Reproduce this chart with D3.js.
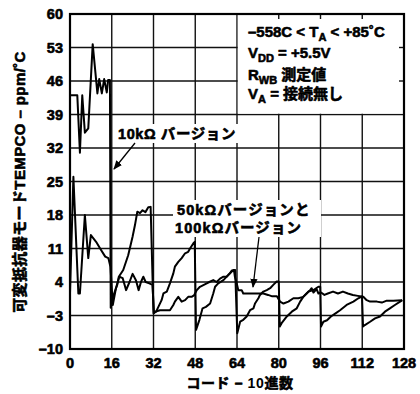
<!DOCTYPE html>
<html><head><meta charset="utf-8">
<script src="https://cdn.jsdelivr.net/npm/d3@7"></script>
<style>
body{margin:0;background:#fff;}
</style></head>
<body><svg id="c" width="420" height="394" font-family="'Liberation Sans', Arial, 'Noto Sans CJK JP', sans-serif"></svg>
<script>
const xTicks = [0,16,32,48,64,80,96,112,128];
const yTicks = [-10,-3,4,11,18,25,32,39,46,53,60];

const codes10k = [0,2.8,3.8,4.7,5.7,7.0,8.7,10.5,11.2,12.2,13.1,14.1,14.6,15.3,15.6,16.9,18.1,18.7,20.4,22.3,24.0,24.9,25.8,26.8,27.8,28.9,30.0,30.9,32.0,
  33.0,35.1,35.8,37.1,38.3,39.6,40.2,41.5,42.8,44.1,45.3,46.0,47.3,47.8,48.3,49.6,50.8,52.1,53.7,54.9,55.6,56.8,58.8,60.7,62.6,63.3,
  64.1,65.2,66.4,67.7,69.0,70.3,70.9,72.2,72.8,74.1,75.4,76.7,77.9,79.2,80.0,80.4,81.1,83.1,85.0,86.9,88.2,89.4,91.4,93.3,95.2,95.9,
  96.2,97.1,98.5,100.0,101.9,103.5,106.0,108.6,110.5,111.9,112.3,113.0,115.0,116.9,118.8,120.7,122.6,124.5,126.5,127.4];
const tempco10k = [43,43,31,43,35.2,36.1,53.7,43.4,46.4,43.4,46.4,43.6,46.2,46.2,-1.4,1.6,3.4,5.1,6.5,9.6,13.5,15.9,18.7,18.4,19.0,18.6,19.6,19.7,-2.5,
  -2.2,0.2,1.6,2.0,3.7,5.8,7.2,8.2,9.0,10.0,10.3,11.0,12.1,12.4,-6.0,-3.9,-1.5,-1.2,-0.5,1.6,3.0,3.7,4.4,5.5,6.5,6.5,
  -6.7,-4.3,-3.9,-3.2,-1.9,-1.5,-0.5,0.6,1.3,2.0,2.3,2.7,3.4,4.1,4.1,-5.3,-4.6,-3.2,-2.2,-1.5,-0.1,0.9,2.0,2.3,3.0,3.0,
  -5.3,-4.3,-4.0,-3.2,-2.5,-1.9,-0.8,-0.1,0.6,1.0,-5.3,-5.0,-4.3,-3.6,-3.2,-2.2,-1.5,-0.8,-0.1,0.2];

const codes50k = [0,1.3,3.2,3.8,5.7,7.0,8.0,10.0,11.9,13.5,14.7,15.5,16.4,17.6,18.9,20.2,21.5,22.8,24.0,25.3,26.3,27.2,28.1,29.0,30.4,31.6,32.2,
  32.6,34.5,38.3,39.6,40.2,41.5,42.8,44.1,45.3,46.6,47.5,48.6,49.8,52.4,53.4,54.9,56.2,57.5,58.8,60.0,61.3,62.0,62.9,63.2,63.9,64.5,65.8,66.4,69.0,72.2,74.1,75.9,77.5,79.3,
  80.5,81.8,83.7,85.6,87.5,89.4,90.7,92.0,92.6,93.3,94.5,95.2,96.2,97.5,98.8,100.8,102.7,104.6,106.5,108.4,110.3,112.4,113.7,115.0,117.6,119.5,121.4,123.9,127.2];
const tempco50k = [1.6,26,1.6,1.6,18,9,13.8,12.4,10.7,9.3,9.0,7.2,-0.8,2.7,5.1,4.8,2.3,4.0,5.7,4.3,2.3,4.0,5.1,4.0,3.7,3.4,-2.5,
  -2.2,-1.9,-1.9,-0.8,-0.1,0.9,-0.1,0.2,0.9,0.9,1.2,2.3,3.0,3.7,4.0,4.4,4.0,4.7,5.1,5.1,5.8,6.4,6.2,5.1,3.7,2.3,2.3,1.6,1.6,1.6,1.6,1.3,1.0,1.0,
  -0.1,-0.5,-0.1,0.6,0.6,0.9,1.6,2.3,2.7,1.8,2.5,1.6,1.8,1.3,1.6,2.0,1.6,2.0,1.6,1.3,1.1,0.9,0.2,-0.1,-0.1,-0.3,0.1,0.1,0.2];

const svg = d3.select("#c");
const L=70,R=404,T=14,B=349;
const x = d3.scaleLinear().domain([0,128]).range([L,R]);
const y = d3.scaleLinear().domain([-10,60]).range([B,T]);

// grid
const g = svg.append("g");
g.selectAll(".vg").data(xTicks.slice(1,-1)).enter().append("line")
  .attr("x1",d=>x(d)).attr("x2",d=>x(d)).attr("y1",T).attr("y2",B)
  .attr("stroke","#111").attr("stroke-width",1.4);
g.selectAll(".hg").data(yTicks.slice(1,-1)).enter().append("line")
  .attr("x1",L).attr("x2",R).attr("y1",d=>y(d)).attr("y2",d=>y(d))
  .attr("stroke","#111").attr("stroke-width",1.4);

// legend box covering grid
svg.append("rect").attr("x",x(64)+0.8).attr("y",T).attr("width",R-x(64)-0.8).attr("height",y(39)-T-0.8).attr("fill","#fff");
[80,96,112].forEach(v=>svg.append("line").attr("x1",x(v)).attr("x2",x(v)).attr("y1",T).attr("y2",T+5).attr("stroke","#111").attr("stroke-width",1.4));
[46,53].forEach(v=>svg.append("line").attr("x1",R-5).attr("x2",R).attr("y1",y(v)).attr("y2",y(v)).attr("stroke","#111").attr("stroke-width",1.4));

// label backgrounds
svg.append("rect").attr("x",115).attr("y",124).attr("width",129).attr("height",19).attr("fill","#fff");
svg.append("rect").attr("x",173).attr("y",200).attr("width",148).attr("height",37).attr("fill","#fff");

// data lines
const line = d3.line().x(d=>x(d[0])).y(d=>y(d[1]));
svg.append("path").datum(codes50k.map((c,i)=>[c,tempco50k[i]])).attr("d",line)
  .attr("fill","none").attr("stroke","#000").attr("stroke-width",2).attr("stroke-linejoin","round");
svg.append("path").datum(codes10k.map((c,i)=>[c,tempco10k[i]])).attr("d",line)
  .attr("fill","none").attr("stroke","#000").attr("stroke-width",2).attr("stroke-linejoin","round");

// frame
svg.append("rect").attr("x",L).attr("y",T).attr("width",R-L).attr("height",B-T)
  .attr("fill","none").attr("stroke","#000").attr("stroke-width",2.2);

function txt(){ return svg.append("text").attr("font-weight","bold").attr("fill","#000")
  .attr("stroke","#000").attr("stroke-width",0.6).attr("stroke-linejoin","round"); }

// axes tick labels
yTicks.forEach(d=>{
  txt().attr("x",L-7).attr("y",y(d)+5).attr("text-anchor","end").attr("font-size",14.5)
    .text(d<0?"\u2013"+Math.abs(d):d);
});
xTicks.forEach(d=>{
  txt().attr("x",x(d)).attr("y",368).attr("text-anchor","middle").attr("font-size",14.5).text(d);
});

// axis titles
const xt = txt().attr("x",240).attr("y",388).attr("text-anchor","middle").attr("font-size",14).attr("letter-spacing",0.6);
xt.append("tspan").text("コード \u2013 ");
xt.append("tspan").attr("stroke-width",0).text("10");
xt.append("tspan").text("進数");
txt().attr("transform","translate(25,182) rotate(-90)").attr("text-anchor","middle")
  .attr("font-size",15).attr("letter-spacing",0.4).text("可変抵抗器モードTEMPCO \u2013 ppm/˚C");

// legend text
const lx = 248;
function sub(t, main, s, rest){ t.append("tspan").text(main); t.append("tspan").attr("font-size",11).attr("dy",4).text(s); t.append("tspan").attr("dy",-4).text(rest); }
sub(txt().attr("x",lx).attr("y",37).attr("font-size",15),"\u2013558C < T","A"," < +85˚C");
sub(txt().attr("x",lx).attr("y",58).attr("font-size",15),"V","DD"," = +5.5V");
sub(txt().attr("x",lx).attr("y",80).attr("font-size",15),"R","WB"," 測定値");
sub(txt().attr("x",lx).attr("y",99).attr("font-size",15),"V","A"," = 接続無し");

// annotations
txt().attr("x",118).attr("y",139).attr("font-size",14.5).attr("letter-spacing",0.6).text("10kΩ バージョン");
txt().attr("x",177).attr("y",215).attr("font-size",14.5).attr("letter-spacing",1.1).text("50kΩバージョンと");
txt().attr("x",175).attr("y",233).attr("font-size",14.5).attr("letter-spacing",1.1).text("100kΩバージョン");

const defs = svg.append("defs");
defs.append("marker").attr("id","ah").attr("viewBox","0 0 10 10").attr("refX",9).attr("refY",5)
  .attr("markerWidth",7).attr("markerHeight",7).attr("orient","auto-start-reverse")
  .append("path").attr("d","M0,1 L10,5 L0,9 Z").attr("fill","#000");
svg.append("line").attr("x1",135).attr("y1",143).attr("x2",114).attr("y2",169)
  .attr("stroke","#000").attr("stroke-width",1.3).attr("marker-end","url(#ah)");
svg.append("line").attr("x1",259).attr("y1",237).attr("x2",253).attr("y2",287)
  .attr("stroke","#000").attr("stroke-width",1.3).attr("marker-end","url(#ah)");
</script></body></html>
